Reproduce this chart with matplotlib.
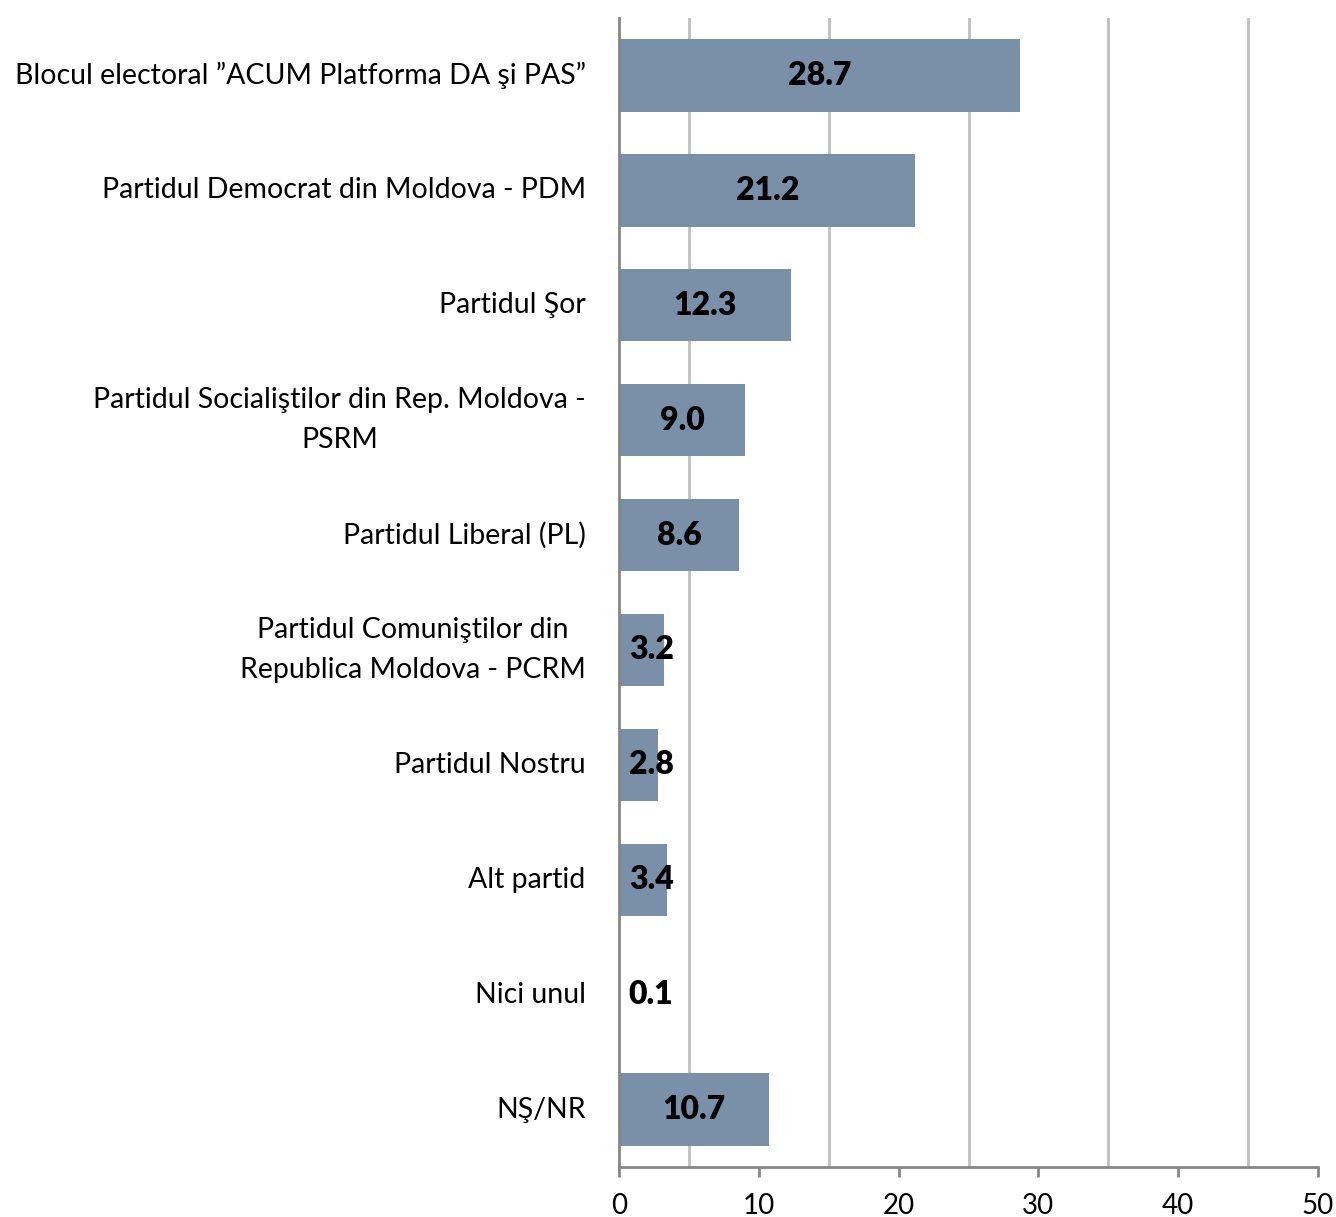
import matplotlib.pyplot as plt
from matplotlib.ticker import MultipleLocator

plt.rcParams['font.family'] = ['Lato', 'DejaVu Sans']

# data
parties = [
    'Blocul electoral ”ACUM Platforma DA şi PAS”',
    'Partidul Democrat din Moldova - PDM',
    'Partidul Şor',
    'Partidul Socialiştilor din Rep. Moldova -\nPSRM',
    'Partidul Liberal (PL)',
    'Partidul Comuniştilor din\nRepublica Moldova - PCRM',
    'Partidul Nostru',
    'Alt partid',
    'Nici unul',
    'NŞ/NR',
]
values = [28.7, 21.2, 12.3, 9.0, 8.6, 3.2, 2.8, 3.4, 0.1, 10.7]
value_labels = ['28.7', '21.2', '12.3', '9.0', '8.6', '3.2', '2.8', '3.4', '0.1', '10.7']

bar_color = '#7990a8'

fig = plt.figure(figsize=(13.36, 12.17), dpi=100)
ax = fig.add_axes([619 / 1336, 1 - 1167 / 1217, 699 / 1336, 1149 / 1217])

pos = list(range(len(parties)))
ax.barh(pos, values, height=0.63, color=bar_color, zorder=2)
ax.set_ylim(len(parties) - 0.5, -0.5)
ax.set_xlim(0, 50)

# value labels, kept inside the plot for tiny bars
for p, v, lab in zip(pos, values, value_labels):
    ax.text(max(v / 2, 2.3), p, lab, ha='center', va='center',
            fontsize=23, fontweight='heavy', color='black', zorder=3)

ax.set_yticks(pos)
ax.set_yticklabels(parties, fontsize=20.5, multialignment='center', linespacing=1.65)
ax.tick_params(axis='y', length=0, pad=24)
for t in ax.get_yticklabels():
    t.set_verticalalignment('center')

ax.xaxis.set_major_locator(MultipleLocator(10))
ax.xaxis.set_minor_locator(MultipleLocator(5))
ax.tick_params(axis='x', which='major', length=7, width=2, color='#868686',
               labelsize=20, pad=12, direction='out')
ax.tick_params(axis='x', which='minor', length=0)
ax.grid(axis='x', which='minor', color='#bfbfbf', linewidth=2, zorder=0)
ax.grid(axis='x', which='major', visible=False)

for s in ['top', 'right']:
    ax.spines[s].set_visible(False)
for s in ['left', 'bottom']:
    ax.spines[s].set_color('#868686')
    ax.spines[s].set_linewidth(2)

fig.savefig('out.png', dpi=100)
